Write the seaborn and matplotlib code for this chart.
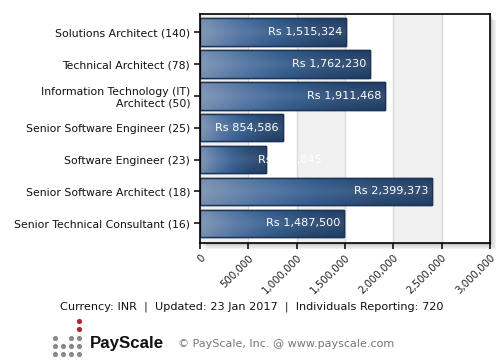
import matplotlib
matplotlib.use("Agg")
import matplotlib.pyplot as plt
import matplotlib.patches as mpatches
from matplotlib.colors import LinearSegmentedColormap
import seaborn as sns
import numpy as np
import pandas as pd

# data
cargos = [
    "Solutions Architect (140)",
    "Technical Architect (78)",
    "Information Technology (IT)\nArchitect (50)",
    "Senior Software Engineer (25)",
    "Software Engineer (23)",
    "Senior Software Architect (18)",
    "Senior Technical Consultant (16)",
]
salarios = [1515324, 1762230, 1911468, 854586, 687845, 2399373, 1487500]
ticks_x = [0, 500000, 1000000, 1500000, 2000000, 2500000, 3000000]

df = pd.DataFrame({"cargo": cargos, "salario": salarios})

sns.set_style("white")
plt.rcParams["font.family"] = ["DejaVu Sans"]

fig = plt.figure(figsize=(5, 3.6), dpi=100)
ax = fig.add_axes([0.40, 0.325, 0.58, 0.636])

# sombra atras da area do grafico
for i, a in enumerate([0.05, 0.05, 0.06, 0.07]):
    off = (4 - i) * 1.6
    sh = mpatches.Rectangle((0.40 + off / 500, 0.325 - off / 360), 0.58, 0.636,
                            transform=fig.transFigure, facecolor="#000000",
                            alpha=a, edgecolor="none", zorder=-5)
    fig.patches.append(sh)

sns.barplot(data=df, x="salario", y="cargo", orient="h", color="#2a4d7c",
            width=0.86, edgecolor="#1b3354", linewidth=1.0, ax=ax, zorder=3)
barras = [p for p in ax.patches if isinstance(p, mpatches.Rectangle)]

# faixas alternadas e grade
for k in range(0, len(ticks_x) - 1, 2):
    ax.axvspan(ticks_x[k], ticks_x[k + 1], color="#f0f0f0", zorder=0, lw=0)
for t in ticks_x[1:-1]:
    ax.axvline(t, color="#d9d9d9", lw=1.0, zorder=1)

ax.set_xlim(0, 3000000)
ax.set_ylim(6.62, -0.57)

# degrade nas barras
cmap = LinearSegmentedColormap.from_list(
    "ps", ["#7890b0", "#4e71a0", "#2f5889", "#25466f", "#1f3c63"])
grad = np.linspace(0, 1, 256).reshape(1, -1)
for p in barras:
    x0, y0 = p.get_x(), p.get_y()
    w, h = p.get_width(), p.get_height()
    im = ax.imshow(grad, cmap=cmap, aspect="auto", extent=[x0, x0 + w, y0 + h, y0],
                   zorder=3.5, interpolation="bicubic")
    im.set_clip_path(p)
    # leve brilho vertical
    vg = np.concatenate([np.linspace(0, 0.10, 64), np.linspace(0.10, 0, 64)]).reshape(-1, 1)
    hl = np.zeros((128, 1, 4))
    hl[..., :3] = 1.0
    hl[..., 3] = vg
    im2 = ax.imshow(hl, aspect="auto", extent=[x0, x0 + w, y0 + h, y0], zorder=3.6)
    im2.set_clip_path(p)
    ax.add_patch(mpatches.Rectangle((x0, y0), w, h, fill=False,
                                    edgecolor="#1b3354", lw=1.0, zorder=3.7))

ax.set_xlim(0, 3000000)
ax.set_ylim(6.62, -0.57)

# rotulos de valor
for i, v in enumerate(salarios):
    if v < 800000:
        ax.text(v - 90000, i, f"Rs {v:,}", color="white", ha="left", va="center",
                fontsize=8.1, zorder=5)
    else:
        ax.text(v - 40000, i, f"Rs {v:,}", color="white", ha="right", va="center",
                fontsize=8.1, zorder=5)

ax.set_xticks(ticks_x)
ax.set_xticklabels([f"{t:,}" for t in ticks_x], rotation=45, ha="right",
                   rotation_mode="anchor", fontsize=7.4, color="#222222")
ax.tick_params(axis="x", direction="out", length=4, width=1.1, color="black", pad=3)
ax.tick_params(axis="y", direction="out", length=4, width=1.1, color="black",
               labelsize=7.8, labelcolor="#111111", pad=3)
ax.set_xlabel("")
ax.set_ylabel("")
for lbl in ax.get_yticklabels():
    lbl.set_multialignment("right")
for s in ax.spines.values():
    s.set_visible(True)
    s.set_color("black")
    s.set_linewidth(1.2)
    s.set_zorder(6)
ax.xaxis.set_ticks_position("bottom")
ax.yaxis.set_ticks_position("left")

# rodape
fig.text(0.503, 0.147,
         "Currency: INR  |  Updated: 23 Jan 2017  |  Individuals Reporting: 720",
         ha="center", va="center", fontsize=8.1, color="#111111")
fig.text(0.18, 0.045, "PayScale", ha="left", va="center", fontsize=12.2,
         fontweight="bold", family=["Liberation Sans"], color="#111111")
fig.text(0.356, 0.045, "\u00a9 PayScale, Inc. @ www.payscale.com", ha="left",
         va="center", fontsize=8.0, color="#777777")

# logo de pontos
lax = fig.add_axes([0.1, 0.005, 0.08, 0.115])
lax.set_xlim(0, 40)
lax.set_ylim(0, 40)
lax.axis("off")
cols = [5, 13, 21, 29]
alturas = [3, 2, 3, 5]
for c, hgt in zip(cols, alturas):
    for r in range(hgt):
        cor = "#b3262e" if (c == 29 and r >= 3) else "#8a8a8a"
        lax.scatter(c, 4 + r * 8, s=14, color=cor, lw=0)

fig.savefig("out.png", dpi=100)
